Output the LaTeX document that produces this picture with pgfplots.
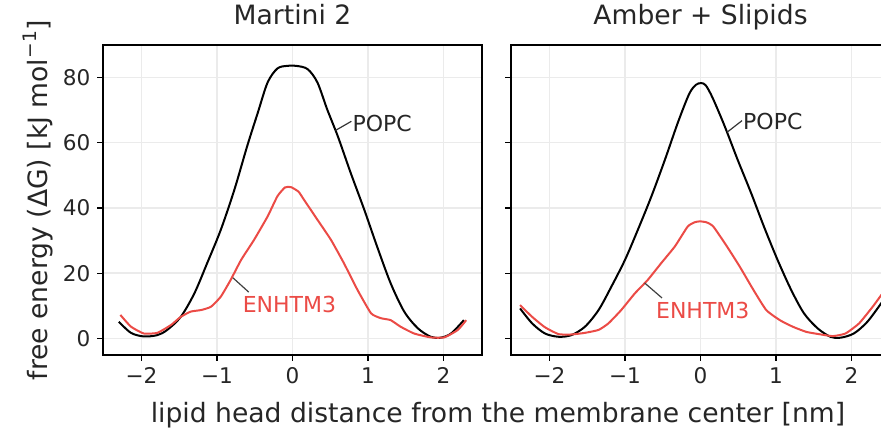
\documentclass[border=0pt]{standalone}
\usepackage{pgfplots}
\pgfplotsset{compat=1.18}
\usepackage{fontspec}
\setmainfont{DejaVu Sans}
\definecolor{enh}{RGB}{235,75,70}
\definecolor{gridc}{RGB}{235,235,235}

\pgfplotstableread{
x y
-2.30 5.1
-2.14 1.7
-1.97 0.6
-1.79 1.0
-1.66 2.6
-1.48 6.6
-1.30 13.8
-1.13 23.1
-0.95 33.3
-0.77 45.6
-0.60 59.0
-0.46 69.2
-0.33 78.5
-0.20 82.8
-0.07 83.6
0.05 83.6
0.20 82.6
0.33 78.5
0.46 70.2
0.60 62.0
0.77 50.8
0.95 39.5
1.12 28.2
1.30 16.9
1.48 8.2
1.66 3.1
1.83 0.5
1.96 0.2
2.10 1.5
2.27 5.6
}\martpopc

\pgfplotstableread{
x y
-2.28 7.2
-2.14 3.6
-1.97 1.5
-1.79 1.7
-1.61 4.1
-1.48 6.6
-1.35 8.2
-1.21 8.7
-1.08 9.7
-0.95 12.8
-0.82 17.9
-0.68 24.1
-0.51 30.2
-0.33 37.4
-0.20 43.6
-0.10 46.3
-0.02 46.4
0.08 45.0
0.15 42.6
0.33 36.4
0.51 30.2
0.68 23.1
0.86 14.9
1.04 7.7
1.17 6.2
1.30 5.6
1.43 3.6
1.61 1.5
1.83 0.3
2.01 0.3
2.19 2.6
2.30 5.6
}\martenh

\pgfplotstableread{
x y
-2.39 9.2
-2.23 4.6
-2.06 1.5
-1.88 0.5
-1.71 1.0
-1.53 3.6
-1.35 8.7
-1.18 15.9
-1.00 24.1
-0.83 33.3
-0.65 43.6
-0.47 54.9
-0.30 66.2
-0.15 75.0
-0.06 77.8
0.01 78.3
0.07 77.6
0.16 73.8
0.32 65.1
0.49 54.9
0.67 44.6
0.84 34.3
1.02 24.1
1.20 14.9
1.37 7.7
1.55 3.1
1.72 0.5
1.85 0.2
2.03 1.5
2.21 5.1
2.40 11.0
}\ambpopc

\pgfplotstableread{
x y
-2.39 10.2
-2.23 6.6
-2.06 3.4
-1.88 1.3
-1.71 1.2
-1.53 1.7
-1.35 2.6
-1.22 4.6
-1.05 8.7
-0.87 13.8
-0.70 17.9
-0.52 23.1
-0.34 28.2
-0.17 34.3
-0.08 35.6
-0.01 35.9
0.08 35.6
0.17 34.3
0.35 28.2
0.52 22.0
0.70 14.9
0.87 8.7
1.05 5.6
1.22 3.6
1.40 2.0
1.57 1.3
1.75 0.7
1.92 1.5
2.10 4.6
2.28 9.7
2.40 13.5
}\ambenh

\pgfplotsset{
  panel/.style={
    scale only axis,
    width=189.5pt, height=155pt,
    anchor=south west,
    xmin=-2.51, xmax=2.51,
    ymin=-5.1, ymax=90,
    xtick={-2,-1,0,1,2},
    xticklabels={−2,−1,0,1,2},
    ytick={0,20,40,60,80},
    tick pos=left,
    tick align=outside,
    major tick length=2.8pt,
    tick style={black, line width=0.6pt},
    axis line style={black, line width=0.7pt},
    grid=major,
    major grid style={gridc, line width=0.7pt},
    ticklabel style={font=\fontsize{10.8}{12}\selectfont, text=black!85},
    title style={at={(0.5,1)}, anchor=base, yshift=4pt, font=\fontsize{13.3}{15}\selectfont, text=black!85},
  }
}

\begin{document}
\begin{tikzpicture}
\begin{axis}[panel, at={(51.5pt,40.5pt)}, title={Martini 2},
  yticklabels={0,20,40,60,80}]
\addplot[black, line width=1pt, smooth, tension=0.5] table[x=x,y=y] {\martpopc};
\addplot[enh, line width=1pt, smooth, tension=0.3] table[x=x,y=y] {\martenh};
\draw[black!80, line width=0.6pt] (axis cs:0.57,63.8) -- (axis cs:0.78,66.6);
\node[anchor=west, inner sep=0pt, font=\fontsize{11}{12}\selectfont, text=black!85] at (axis cs:0.79,65.9) {POPC};
\draw[black!75, line width=0.6pt] (axis cs:-0.79,18.6) -- (axis cs:-0.58,14.2);
\node[inner sep=0pt, font=\fontsize{11}{12}\selectfont, text=enh] at (axis cs:-0.04,10.3) {ENHTM3};
\end{axis}
\begin{axis}[panel, at={(255.5pt,40.5pt)}, title={Amber + Slipids},
  yticklabels={}]
\addplot[black, line width=1pt, smooth, tension=0.5] table[x=x,y=y] {\ambpopc};
\addplot[enh, line width=1pt, smooth, tension=0.3] table[x=x,y=y] {\ambenh};
\draw[black!80, line width=0.6pt] (axis cs:0.35,63.2) -- (axis cs:0.55,66.8);
\node[anchor=west, inner sep=0pt, font=\fontsize{11}{12}\selectfont, text=black!85] at (axis cs:0.56,66.4) {POPC};
\draw[black!75, line width=0.6pt] (axis cs:-0.74,17.0) -- (axis cs:-0.51,12.4);
\node[inner sep=0pt, font=\fontsize{11}{12}\selectfont, text=enh] at (axis cs:0.03,8.7) {ENHTM3};
\end{axis}
\node[rotate=90, anchor=center, font=\fontsize{13.3}{15}\selectfont, text=black!85] at (19pt,118pt) {free energy (ΔG) [kJ mol\textsuperscript{−1}]};
\node[anchor=base, font=\fontsize{13.3}{15}\selectfont, text=black!85] at (249pt,7pt) {lipid head distance from the membrane center [nm]};
\pgfresetboundingbox
\useasboundingbox (0,0) rectangle (440.5pt,218pt);
\end{tikzpicture}
\end{document}
